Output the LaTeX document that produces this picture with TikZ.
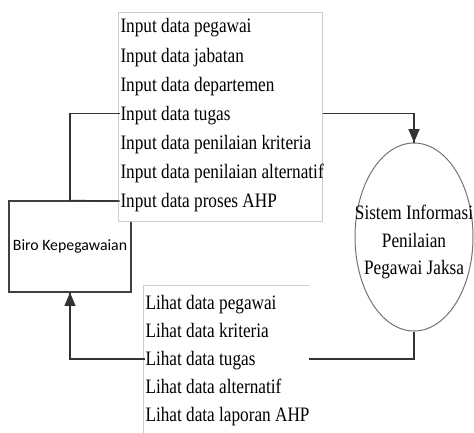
\documentclass[tikz,border=0pt]{standalone}
\usepackage{fontspec}
\setmainfont{Liberation Serif}
\newfontfamily\carlito{Carlito}
\usepackage{tikz}
\usetikzlibrary{arrows}
\usetikzlibrary{decorations.markings}
\usetikzlibrary{positioning}
\usetikzlibrary{shapes.geometric}
\tikzset{->/.style = {decoration={markings,
                                  mark=at position 1 with {\arrow[scale=1.4]{triangle 45}}},
                      postaction={decorate}}}
\tikzset{serif/.style = {inner sep = 0, xscale = 0.84, font = \fontsize{20.5}{27.5}\selectfont}}
\tikzset{item/.style = {serif, anchor = west, text height = 13.6, text depth = 0}}
\tikzset{frame/.style = {draw = black!20, line width = 0.8}}
\tikzset{entity/.style = {draw = black!75, line width = 1.2, inner sep = 0}}

\begin{document}
\begin{tikzpicture}[x=1pt, y=-1pt, line width=1.2pt, draw=black!80]
      \useasboundingbox (0, 0) rectangle (474, 432);

      \node [entity, minimum width = 122, minimum height = 91,
             font = \carlito\fontsize{15.8}{18}\selectfont] (biro) at (70, 246.5) {Biro Kepegawaian};
      \node [entity, ellipse, draw = black!55, line width = 1,
             minimum width = 118, minimum height = 188] (sistem) at (414, 237) {};
      \node [serif, align = center] (sistemtxt) at ([yshift=-5pt]sistem.center)
            {Sistem Informasi\\Penilaian\\Pegawai Jaksa};

      % input flows
      \node [frame, fill = white, inner sep = 0, anchor = north west,
             minimum width = 204, minimum height = 209] (inbox) at (118, 12) {};
      \node [item] (in1) at (120, 26) {Input data pegawai};
      \node [item] (in2) at (120, 55.2) {Input data jabatan};
      \node [item] (in3) at (120, 84.3) {Input data departemen};
      \node [item] (in4) at (120, 113.5) {Input data tugas};
      \node [item] (in5) at (120, 142.7) {Input data penilaian kriteria};
      \node [item] (in6) at (120, 171.8) {Input data penilaian alternatif};
      \node [item] (in7) at (120, 201) {Input data proses AHP};

      % output flows
      \node [inner sep = 0, anchor = north west,
             minimum width = 165, minimum height = 147] (outbox) at (143, 285) {};
      \draw [frame] (outbox.north east) -- (outbox.north west) -- (outbox.south west);
      \node [item] (out1) at (145, 303) {Lihat data pegawai};
      \node [item] (out2) at (145, 331) {Lihat data kriteria};
      \node [item] (out3) at (145, 359) {Lihat data tugas};
      \node [item] (out4) at (145, 387) {Lihat data alternatif};
      \node [item] (out5) at (145, 415) {Lihat data laporan AHP};

      \draw (biro.north) |- (in4.west);
      \draw (biro.north) -- (in7.west);
      \draw [->] (inbox.east |- in4.west) -| (sistem.north);
      \draw (sistem.south) |- (outbox.north east |- out3.west);
      \draw [->] (out3.west) -| (biro.south);
    \end{tikzpicture}
\end{document}
